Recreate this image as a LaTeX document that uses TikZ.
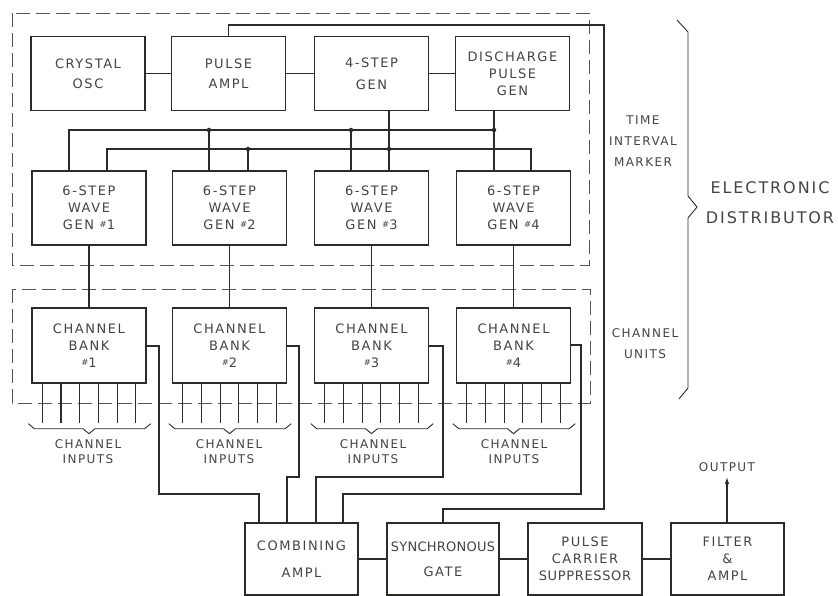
\documentclass[tikz,border=0pt]{standalone}
\usepackage{fontspec}
\setmainfont{DejaVu Sans}
\newfontfamily\lblfont[LetterSpace=12]{DejaVu Sans}
\usetikzlibrary{calc,arrows.meta}
\definecolor{ink}{HTML}{2B2B28}
\definecolor{txt}{HTML}{45453F}
\newcommand{\nmb}[1]{\raisebox{2pt}{\fontsize{8.5}{8.5}\selectfont\#}#1}
\tikzset{
  blk/.style={draw=ink, line width=1.4pt, minimum width=114pt, minimum height=74pt,
    inner sep=0pt, align=center, text=txt, font=\lblfont\fontsize{13}{17}\selectfont},
  wire/.style={draw=ink, line width=1.1pt},
  dashbox/.style={draw=ink!80, line width=0.9pt, dash pattern=on 14pt off 6pt},
  jn/.style={circle, fill=ink, inner sep=0pt, minimum size=4.5pt},
  lbl/.style={align=center, text=txt, inner sep=0pt, font=\lblfont\fontsize{12}{15}\selectfont},
  biglbl/.style={align=center, text=txt, inner sep=0pt, font=\lblfont\fontsize{16}{30}\selectfont}
}
\begin{document}
\begin{tikzpicture}[x=1pt,y=-1pt]
\useasboundingbox (0,0) rectangle (838,596);
\fill[white] (0,0) rectangle (838,596);

% dashed groups
\draw[dashbox] (12,13) rectangle (589,265);
\draw[dashbox] (12,289) rectangle (590,403);

% top row
\node[blk] (cosc)  at (88,73.5)  {CRYSTAL\\[3pt]OSC};
\node[blk] (pamp)  at (228.5,73.5) {PULSE\\[3pt]AMPL};
\node[blk] (fstep) at (371.5,73.5) {4-STEP\\[5pt]GEN};
\node[blk] (dpg)   at (512.5,73.5) {DISCHARGE\\PULSE\\GEN};

% 6-step generators
\node[blk] (g1) at (89,208)    {6-STEP\\WAVE\\GEN \nmb{1}};
\node[blk] (g2) at (229.5,208) {6-STEP\\WAVE\\GEN \nmb{2}};
\node[blk] (g3) at (371.5,208) {6-STEP\\WAVE\\GEN \nmb{3}};
\node[blk] (g4) at (513.5,208) {6-STEP\\WAVE\\GEN \nmb{4}};

% channel banks
\node[blk, minimum height=75pt] (cb1) at (89,345.5)    {CHANNEL\\BANK\\\nmb{1}};
\node[blk, minimum height=75pt] (cb2) at (229.5,345.5) {CHANNEL\\BANK\\\nmb{2}};
\node[blk, minimum height=75pt] (cb3) at (371.5,345.5) {CHANNEL\\BANK\\\nmb{3}};
\node[blk, minimum height=75pt] (cb4) at (513.5,345.5) {CHANNEL\\BANK\\\nmb{4}};

% bottom chain
\node[blk, minimum height=72pt, minimum width=113pt] (comb) at (301.5,559) {COMBINING\\[10pt]AMPL};
\node[blk, minimum height=72pt, minimum width=112pt] (sync) at (443,559) {\addfontfeature{LetterSpace=2}SYNCHRONOUS\\[8pt]GATE};
\node[blk, minimum height=72pt] (pcs) at (585,559) {PULSE\\CARRIER\\\addfontfeature{LetterSpace=5}SUPPRESSOR};
\node[blk, minimum height=72pt, minimum width=113pt] (filt) at (727.5,559) {FILTER\\\&\\AMPL};

% labels
\node[lbl] (outl) at (727,467) {OUTPUT};
\node[lbl, font=\lblfont\fontsize{12}{21}\selectfont] (tim) at (643,141) {TIME\\INTERVAL\\MARKER};
\node[lbl, font=\lblfont\fontsize{12}{21}\selectfont] (chu) at (645,343.5) {CHANNEL\\UNITS};
\node[biglbl] (edist) at (770,203) {ELECTRONIC\\DISTRIBUTOR};
\node[lbl] (ci1) at (88,452)  {CHANNEL\\INPUTS};
\node[lbl] (ci2) at (229,452) {CHANNEL\\INPUTS};
\node[lbl] (ci3) at (373,452) {CHANNEL\\INPUTS};
\node[lbl] (ci4) at (514,452) {CHANNEL\\INPUTS};

% top row chain
\draw[wire] (cosc) -- (pamp);
\draw[wire] (pamp) -- (fstep);
\draw[wire] (fstep) -- (dpg);

% feedback / sync line
\coordinate (fbA) at (604,25);
\coordinate (fbB) at (604,509);
\draw[wire] (pamp.north) |- (fbA) -- (fbB) -| (sync.north);

% bus lines
\coordinate (p1) at (69,130);
\coordinate (j12) at (209,130);
\coordinate (j13) at (351,130);
\coordinate (j14) at (494,130);
\coordinate (q1) at (107,149);
\coordinate (j22) at (248,149);
\coordinate (j23) at (389,149);
\coordinate (q4) at (531,149);
\draw[wire] (p1 |- g1.north) -- (p1) -- (j14);
\draw[wire] (j14 |- dpg.south) -- (j14 |- g4.north);
\draw[wire] (j12) -- (j12 |- g2.north);
\draw[wire] (j13) -- (j13 |- g3.north);
\draw[wire] (q1 |- g1.north) -- (q1) -- (q4) -- (q4 |- g4.north);
\draw[wire] (j22) -- (j22 |- g2.north);
\draw[wire] (j23 |- fstep.south) -- (j23 |- g3.north);
\foreach \j in {j12,j13,j14,j22,j23} \node[jn] at (\j) {};

% generators to banks
\draw[wire] (g1) -- (cb1);
\draw[wire] (g2) -- (cb2);
\draw[wire] (g3) -- (cb3);
\draw[wire] (g4) -- (cb4);

% channel inputs
\foreach \b in {cb1,cb2,cb3,cb4}{
  \foreach \k in {0,...,5}{
    \draw[wire] ($(\b.south west)+(11+18.7*\k,0)$) -- ++(0,39);
  }
  \draw[ink, line width=0.9pt, line join=round]
    ($(\b.south west)+(-3,40)$) -- ++(6,5) -- ($(\b.south)+(-6,45)$) -- ($(\b.south)+(0,50)$)
    -- ($(\b.south)+(6,45)$) -- ($(\b.south east)+(-2,45)$) -- ++(6,-5);
}

% bank outputs to combining amplifier
\coordinate (o1a) at (159,346); \coordinate (o1b) at (259,494);
\coordinate (o2a) at (299,346); \coordinate (o2b) at (287,477);
\coordinate (o3a) at (443,346); \coordinate (o3b) at (316,477);
\coordinate (o4a) at (581,345); \coordinate (o4b) at (343,494);
\draw[wire] (cb1.east |- o1a) -- (o1a) |- (o1b) -- (o1b |- comb.north);
\draw[wire] (cb2.east |- o2a) -- (o2a) |- (o2b) -- (o2b |- comb.north);
\draw[wire] (cb3.east |- o3a) -- (o3a) |- (o3b) -- (o3b |- comb.north);
\draw[wire] (cb4.east |- o4a) -- (o4a) |- (o4b) -- (o4b |- comb.north);

% bottom chain
\draw[wire] (comb) -- (sync);
\draw[wire] (sync) -- (pcs);
\draw[wire] (pcs) -- (filt);
\coordinate (otip) at (727,477);
\draw[wire, -{Latex[length=7pt,width=4.5pt]}] (filt.north -| otip) -- (otip);

% big brace
\draw[ink, line width=0.9pt, line join=round]
  (677,20) -- (688,32) -- (688,196) -- (697,207) -- (688,218) -- (688,388) -- (679,399);
\end{tikzpicture}
\end{document}
